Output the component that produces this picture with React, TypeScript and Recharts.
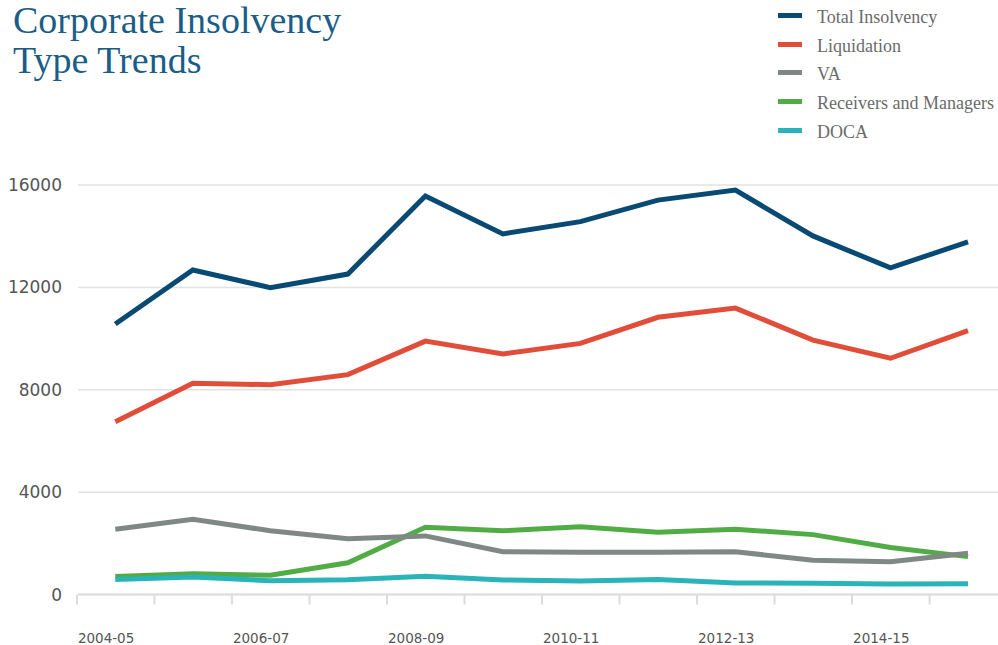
import React from 'react';
import { LineChart, Line, XAxis, YAxis, CartesianGrid, Legend } from 'recharts';

const CATEGORIES = ['2004-05', '2005-06', '2006-07', '2007-08', '2008-09', '2009-10', '2010-11', '2011-12', '2012-13', '2013-14', '2014-15', '2015-16'];
const TOTAL = [10570, 12680, 11990, 12520, 15570, 14090, 14570, 15410, 15800, 14010, 12760, 13780];
const LIQUIDATION = [6750, 8250, 8200, 8590, 9900, 9400, 9810, 10830, 11190, 9940, 9230, 10310];
const VA = [2550, 2940, 2490, 2180, 2290, 1670, 1650, 1650, 1670, 1340, 1280, 1610];
const RECEIVERS = [700, 810, 750, 1240, 2630, 2490, 2650, 2430, 2550, 2340, 1840, 1480];
const DOCA = [590, 680, 540, 580, 710, 570, 530, 590, 450, 440, 410, 420];
const Y_TICKS = [0, 4000, 8000, 12000, 16000];
const X_TICK_LABELS = ['2004-05', '2006-07', '2008-09', '2010-11', '2012-13', '2014-15'];

const SERIES = [
  { key: 'total', name: 'Total Insolvency', color: '#084a73', values: TOTAL },
  { key: 'liquidation', name: 'Liquidation', color: '#e04e3a', values: LIQUIDATION },
  { key: 'va', name: 'VA', color: '#808885', values: VA },
  { key: 'receivers', name: 'Receivers and Managers', color: '#52ac46', values: RECEIVERS },
  { key: 'doca', name: 'DOCA', color: '#2ab3b8', values: DOCA },
];
const DRAW_ORDER = ['total', 'liquidation', 'receivers', 'va', 'doca'];

const data = CATEGORIES.map((c, i) => {
  const row: any = { category: c };
  SERIES.forEach((s) => { row[s.key] = s.values[i]; });
  return row;
});

const HALF_BAND = 38.4;
const AXIS_COLOR = '#dcdcdc';

const XTick = (props: any) => {
  const { x, y, payload } = props;
  const bx = x - HALF_BAND;
  const show = X_TICK_LABELS.includes(payload.value);
  return (
    <g>
      <line x1={bx} x2={bx} y1={y} y2={y + 10} stroke={AXIS_COLOR} strokeWidth={2} />
      {show && (
        <text x={bx + 1} y={y + 48} textAnchor="start" fontSize={13.5} fill="#555" fontFamily="DejaVu Sans">
          {payload.value}
        </text>
      )}
    </g>
  );
};

const LegendBox = () => (
  <div style={{ paddingTop: 1 }}>
    {SERIES.map((s) => (
      <div key={s.key} style={{ display: 'flex', alignItems: 'center', height: 28.7 }}>
        <div style={{ width: 24, height: 5, background: s.color, marginRight: 15, flexShrink: 0 }} />
        <span style={{ fontFamily: '"Liberation Serif"', fontSize: 18, color: '#6b6b6b', whiteSpace: 'nowrap', position: 'relative', top: 2 }}>
          {s.name}
        </span>
      </div>
    ))}
  </div>
);

export default function App() {
  return (
    <div style={{ position: 'absolute', left: 0, top: 0, width: 998, height: 645, overflow: 'hidden', background: '#fff' }}>
      <div
        style={{
          position: 'absolute',
          left: 13,
          top: 0,
          fontFamily: '"Liberation Serif"',
          fontSize: 38,
          lineHeight: '40px',
          color: '#1b5d87',
          whiteSpace: 'nowrap',
        }}
      >
        Corporate Insolvency
        <br />
        Type Trends
      </div>
      <LineChart width={998} height={645} data={data} margin={{ top: 185, right: 0, bottom: 0, left: 0 }}>
        <CartesianGrid vertical={false} stroke="#e2e2e2" strokeWidth={1.5} />
        <XAxis
          dataKey="category"
          height={50.5}
          padding={{ left: 37.3, right: 30 }}
          interval={0}
          tickSize={0}
          tickMargin={0}
          tickLine={false}
          axisLine={{ stroke: AXIS_COLOR, strokeWidth: 2 }}
          tick={<XTick />}
        />
        <YAxis
          width={78}
          domain={[0, 16000]}
          ticks={Y_TICKS}
          axisLine={false}
          tickLine={false}
          tickSize={0}
          tickMargin={16}
          tick={{ fontSize: 17, fill: '#555', fontFamily: 'DejaVu Sans' }}
        />
        <Legend
          layout="horizontal"
          verticalAlign="middle"
          align="center"
          wrapperStyle={{ left: 778, top: 0, width: 220, height: 150 }}
          content={() => <LegendBox />}
        />
        {DRAW_ORDER.map((k) => {
          const s = SERIES.find((x) => x.key === k)!;
          return (
            <Line
              key={s.key}
              type="linear"
              dataKey={s.key}
              name={s.name}
              stroke={s.color}
              strokeWidth={5}
              dot={false}
              activeDot={false}
              isAnimationActive={false}
            />
          );
        })}
      </LineChart>
    </div>
  );
}
